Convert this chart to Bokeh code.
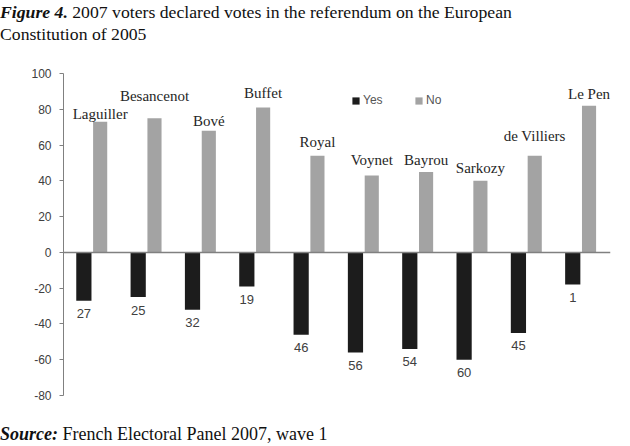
from bokeh.plotting import figure
from bokeh.models import (ColumnDataSource, Range1d, FixedTicker, Span, Legend,
                          LegendItem, Div, PrintfTickFormatter)
from bokeh.layouts import column
from bokeh.embed import file_html
from bokeh.resources import INLINE
from bokeh.core.properties import value

# ---------------- data ----------------
candidates = ["Laguiller", "Besancenot", "Bové", "Buffet", "Royal",
              "Voynet", "Bayrou", "Sarkozy", "de Villiers", "Le Pen"]
yes_votes = [27, 25, 32, 19, 46, 56, 54, 60, 45, 18]     # % declared Yes
no_votes = [73, 75, 68, 81, 54, 43, 45, 40, 54, 82]      # % declared No
yes_labels = ["27", "25", "32", "19", "46", "56", "54", "60", "45", "1"]
y_ticks = [-80, -60, -40, -20, 0, 20, 40, 60, 80, 100]

# ---------------- layout tweaks (label placement) ----------------
name_lift = [4.6, 12.7, 5.7, 8.0, 7.6, 8.4, 6.4, 6.9, 10.8, 6.8]

idx = list(range(len(candidates)))
src = ColumnDataSource(dict(
    x_yes=[i - 0.145 for i in idx],
    x_no=[i + 0.155 for i in idx],
    yes_bottom=[-v for v in yes_votes],
    no_top=no_votes,
    name=candidates,
    name_y=[v + l for v, l in zip(no_votes, name_lift)],
    yes_label=yes_labels,
))

p = figure(width=614, height=344, x_range=Range1d(-0.52, 9.55),
           y_range=Range1d(-80, 100), output_backend="svg",
           toolbar_location=None, x_axis_location=None,
           min_border_left=63, min_border_right=4,
           min_border_top=13, min_border_bottom=9)
p.grid.visible = False
p.outline_line_color = None

ax = p.yaxis[0]
ax.ticker = FixedTicker(ticks=y_ticks)
ax.formatter = PrintfTickFormatter(format="%d")
ax.major_tick_in = 0
ax.major_tick_out = 4
ax.minor_tick_out = 0
ax.minor_tick_in = 0
ax.axis_line_color = "#808080"
ax.major_tick_line_color = "#808080"
ax.major_label_text_font = "Liberation Sans"
ax.major_label_text_font_size = "12px"
ax.major_label_text_color = "#404040"
ax.major_label_standoff = 8

p.add_layout(Span(location=0, dimension="width", line_color="#808080",
                  line_width=1.5))

r_yes = p.vbar(x="x_yes", top=0, bottom="yes_bottom", width=0.28,
               fill_color="#1c1c1c", line_color=None, source=src)
r_no = p.vbar(x="x_no", bottom=0, top="no_top", width=0.26,
              fill_color="#a3a3a3", line_color=None, source=src)

p.text(x="x_no", y="name_y", text="name", source=src,
       text_align="center", text_baseline="middle",
       text_font=value("Liberation Serif"), text_font_size="15px",
       text_color="#262626")
p.text(x="x_yes", y="yes_bottom", text="yes_label", source=src,
       y_offset=13, text_align="center", text_baseline="middle",
       text_font=value("Liberation Sans"), text_font_size="13px",
       text_color="#404040")

legend = Legend(items=[LegendItem(label="Yes", renderers=[r_yes]),
                       LegendItem(label="No", renderers=[r_no])],
                orientation="horizontal", location=(288, 288),
                glyph_width=9, glyph_height=9, label_height=12,
                label_text_font="Liberation Sans",
                label_text_font_size="12px", label_text_color="#555555",
                label_standoff=3, spacing=31, padding=0, margin=0,
                border_line_color=None, background_fill_alpha=0)
p.add_layout(legend)

title = Div(text=("<div style=\"font-family:'Liberation Serif';font-size:17.7px;"
                  "line-height:22px;color:#111;position:relative;top:-4px;left:-5px;"
                  "white-space:nowrap\">"
                  "<b><i>Figure 4.</i></b> 2007 voters declared votes in the "
                  "referendum on the European<br>Constitution of 2005</div>"),
            width=614, height=50)
source_div = Div(text=("<div style=\"font-family:'Liberation Serif';font-size:18px;"
                       "line-height:18px;color:#111;position:relative;top:16px;left:-5px;"
                       "white-space:nowrap\">"
                       "<b><i>Source:</i></b> French Electoral Panel 2007, wave 1</div>"),
                 width=614, height=36)

layout = column(title, p, source_div)
open("out.html", "w").write(file_html(layout, INLINE))
